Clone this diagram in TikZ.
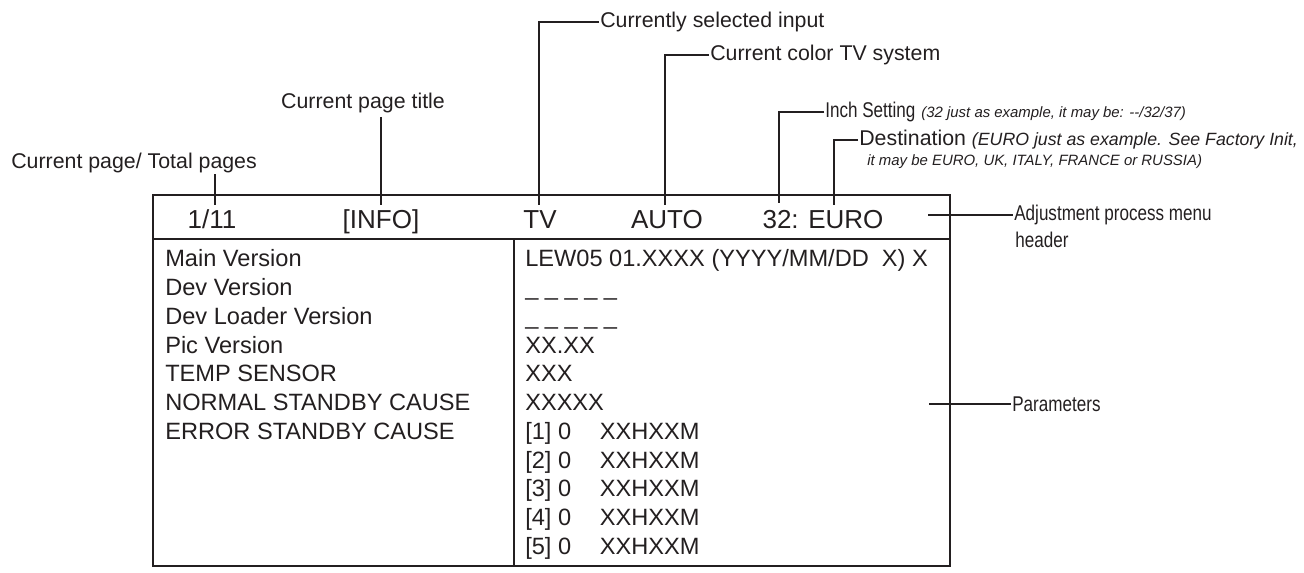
\documentclass[tikz,border=0pt]{standalone}
\usepackage{fontspec}
\setmainfont{Liberation Sans}
\definecolor{ink}{RGB}{35,31,32}
\newcommand\notefont{\fontsize{11.2}{13}\selectfont\itshape}
\newcommand\notefontb{\fontsize{13.3}{15}\selectfont\itshape}
\newcommand\narrow[1]{\scalebox{0.8}[1]{#1}}
\begin{document}
\begin{tikzpicture}[x=0.75pt,y=-0.75pt,
  ln/.style={line width=2.1pt, draw=ink},
  lbl/.style={font=\fontsize{16}{18}\selectfont, inner sep=0.8pt, text=ink},
  hdr/.style={font=\fontsize{19.5}{22}\selectfont, inner sep=0pt, anchor=base, text=ink},
  bodyl/.style={font=\fontsize{17.7}{20}\selectfont, inner sep=0pt, anchor=base west, text=ink}]
\useasboundingbox (0,0) rectangle (1304,573);

% box
\draw[ln] (153,195) rectangle (950,566);
\draw[ln] (153,239) -- (950,239);
\draw[ln] (514,239) -- (514,566);

% header texts
\node[hdr] (h1) at (212,229) {1/11};
\node[hdr] (h2) at (381,229) {[INFO]};
\node[hdr] (h3) at (540,229) {TV};
\node[hdr] (h4) at (667,229) {AUTO};
\node[hdr] (h5) at (823,229) {32: EURO};

% leader end points
\coordinate (e1) at (215,205);
\coordinate (e2) at (381,205);
\coordinate (e3) at (539,205);
\coordinate (e4) at (665,205);
\coordinate (e5) at (779,203);
\coordinate (e6) at (834,205);
\coordinate (e7) at (928,215);
\coordinate (e8) at (929,404);

% labels
\node[lbl,anchor=west] (cpt) at (10,163) {Current page/ Total pages};
\draw[ln] (cpt.south -| e1) -- (e1);
\node[lbl] (title) at (363,103) {Current page title};
\draw[ln] ([yshift=-2pt]title.south -| e2) -- (e2);
\node[lbl,anchor=west] (csi) at (599,22) {Currently selected input};
\draw[ln] (csi.west) -| (e3);
\node[lbl,anchor=west] (cctv) at (709,55) {Current color TV system};
\draw[ln] (cctv.west) -| (e4);
\node[lbl,anchor=west] (inch) at (824,112) {\narrow{Inch Setting} {\notefont (32 just as example, it may be: {-}{-}/32/37)}};
\draw[ln] (inch.west) -| (e5);
\node[lbl,anchor=west] (dest) at (858,140) {Destination {\notefontb (EURO just as example. See Factory Init,}};
\node[lbl,anchor=base west] (dest2) at (866,166) {\notefont it may be EURO, UK, ITALY, FRANCE or RUSSIA)};
\draw[ln] (dest.west) -| (e6);
\node[lbl,anchor=west] (adj) at (1013,215) {\narrow{Adjustment process menu}};
\node[lbl,anchor=base west] (adj2) at (1014,248) {\narrow{header}};
\draw[ln] (e7) -- (adj.west);
\node[lbl,anchor=west] (par) at (1011,404) {\narrow{Parameters}};
\draw[ln] (e8) -- (par.west);

% left column
\foreach \t [count=\i from 0] in {Main Version, Dev Version, Dev Loader Version, Pic Version, TEMP SENSOR, NORMAL STANDBY CAUSE, ERROR STANDBY CAUSE}
  \node[bodyl] (l\i) at (165,{267+28.75*\i}) {\t};

% right column
\node[bodyl] (r0) at (525,267) {LEW05 01.XXXX (YYYY/MM/DD\ \ X) X};
\node[bodyl] (r1) at (525,295.75) {\_ \_ \_ \_ \_};
\node[bodyl] (r2) at (525,324.5) {\_ \_ \_ \_ \_};
\node[bodyl] (r3) at (525,353.25) {XX.XX};
\node[bodyl] (r4) at (525,382) {XXX};
\node[bodyl] (r5) at (525,410.75) {XXXXX};
\foreach \k in {1,...,5}
  \node[bodyl] (p\k) at (525,{267+28.75*(5+\k)}) {\makebox[56pt][l]{[\k] 0}XXHXXM};
\end{tikzpicture}
\end{document}
